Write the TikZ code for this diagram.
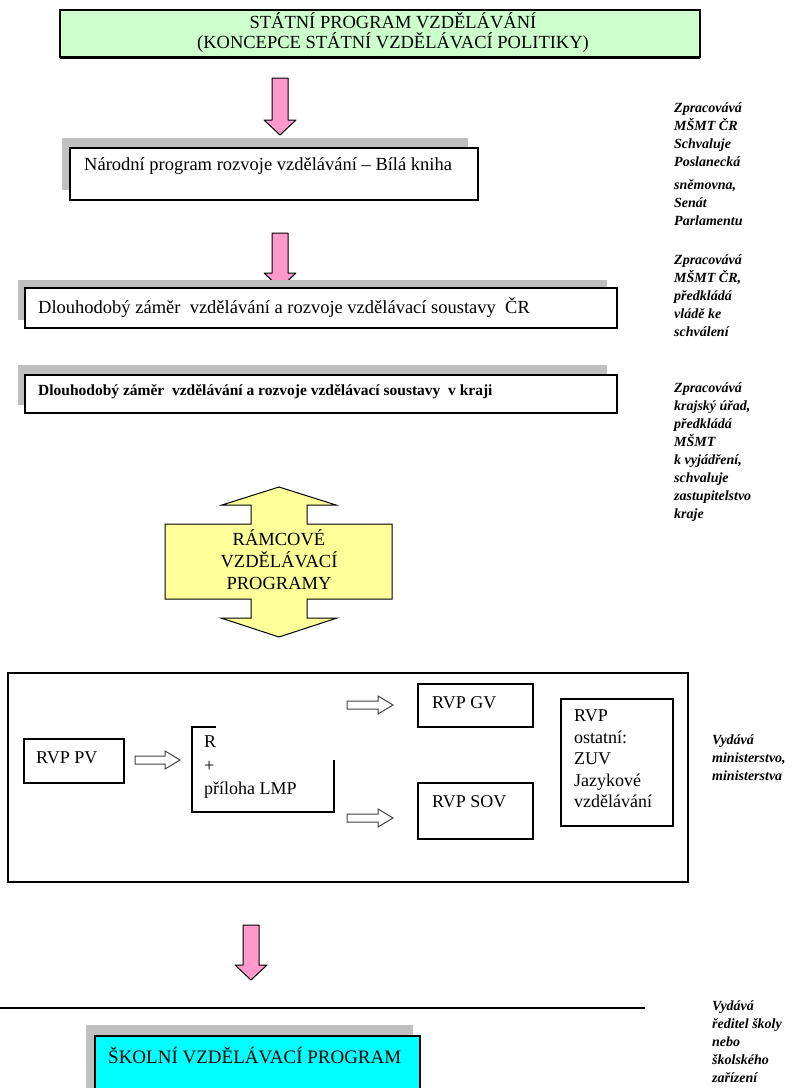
\documentclass[tikz,border=0pt]{standalone}
\usepackage{fontspec}
\setmainfont{Liberation Serif}
\usetikzlibrary{positioning}

\definecolor{statnigreen}{HTML}{CCFFCC}
\definecolor{arrowpink}{HTML}{FF99CC}
\definecolor{rvpyellow}{HTML}{FFFF99}
\definecolor{svpcyan}{HTML}{00FFFF}
\definecolor{shadowgray}{HTML}{C0C0C0}

\tikzset{
  frame/.style={draw, line width=1.2pt},
  shadowbar/.style={fill=shadowgray},
  pinkarrow/.style={draw, fill=arrowpink, line width=1pt, line join=round},
  hollowarrow/.style={draw=black!75, fill=white, line width=1pt},
  boxtext/.style={inner sep=0pt, anchor=west, font=\fontsize{18.5}{22}\selectfont},
  note/.style={inner sep=0pt, anchor=north west, align=left,
    font=\fontsize{14}{18}\selectfont\bfseries\itshape},
}

\newcommand{\pinkdown}[3]{%
  \draw[pinkarrow] (#1-8,#2) -- (#1+8,#2) -- (#1+8,#3-15) -- (#1+16,#3-15)
    -- (#1,#3) -- (#1-16,#3-15) -- (#1-8,#3-15) -- cycle;}
\newcommand{\hollowright}[3]{%
  \draw[hollowarrow] (#1,#3-4) -- (#2-15,#3-4) -- (#2-15,#3-9) -- (#2,#3)
    -- (#2-15,#3+9) -- (#2-15,#3+4) -- (#1,#3+4) -- cycle;}

\begin{document}
\begin{tikzpicture}[x=1pt,y=-1pt]
  \useasboundingbox (0,0) rectangle (794,1088);

  \begin{scope}
    \draw[frame, fill=statnigreen] (60,10) rectangle (700,57);
    \draw[line width=3pt] (60,57) -- (700,57);
    \node[boxtext, anchor=center, align=center, font=\fontsize{18.5}{20}\selectfont] (statni) at (393,33)
      {STÁTNÍ PROGRAM VZDĚLÁVÁNÍ\\(KONCEPCE STÁTNÍ VZDĚLÁVACÍ POLITIKY)};
  \end{scope}

  \pinkdown{280}{78}{135}

  \begin{scope}
    \fill[shadowbar] (62,138) rectangle (468,190);
    \draw[frame, fill=white] (70,148) rectangle (478,200);
    \node[boxtext] (bila) at (84,166) {Národní program rozvoje vzdělávání – Bílá kniha};
  \end{scope}

  \pinkdown{280}{233}{288}

  \begin{scope}
    \fill[shadowbar] (18,280) rectangle (607,320);
    \draw[frame, fill=white] (25,288) rectangle (617,328);
    \node[boxtext] (zamercr) at (38,308) {Dlouhodobý záměr\ \ vzdělávání a rozvoje vzdělávací soustavy\ \ ČR};

    \fill[shadowbar] (18,365) rectangle (607,405);
    \draw[frame, fill=white] (25,375) rectangle (617,413);
    \node[boxtext, font=\fontsize{15.5}{18}\selectfont\bfseries] (zamerkraj) at (38,392)
      {Dlouhodobý záměr\ \ vzdělávání a rozvoje vzdělávací soustavy\ \ v kraji};
  \end{scope}

  \draw[frame, line width=1pt, fill=rvpyellow] (279,487) -- (336,505) -- (307,505) -- (307,524)
    -- (392,524) -- (392,599) -- (307,599) -- (307,618) -- (337,618) -- (279,637)
    -- (221,618) -- (251,618) -- (251,599) -- (165,599) -- (165,524) -- (251,524)
    -- (251,505) -- (222,505) -- cycle;
  \node[align=center, inner sep=0pt, font=\fontsize{18.5}{22}\selectfont] (ramcove) at (279,560)
    {RÁMCOVÉ\\VZDĚLÁVACÍ\\PROGRAMY};

  \begin{scope}
    \draw[frame] (8,673) rectangle (688,882);

    \draw[frame] (24,739) rectangle (124,783);
    \node[boxtext, font=\fontsize{18}{22}\selectfont] (rvppv) at (36,758) {RVP PV};
    \hollowright{135}{180}{760}

    \draw[frame] (216,727) -- (192,727) -- (192,812) -- (334,812) -- (334,760);
    \node[boxtext, anchor=north west, align=left, font=\fontsize{18}{23.5}\selectfont] (rvplmp) at (204,736)
      {R\\+\\příloha LMP};

    \hollowright{347}{393}{705}
    \hollowright{347}{393}{818}

    \draw[frame] (418,684) rectangle (533,727);
    \node[boxtext, font=\fontsize{18}{22}\selectfont] (rvpgv) at (432,703) {RVP GV};
    \draw[frame] (418,783) rectangle (533,839);
    \node[boxtext, font=\fontsize{18}{22}\selectfont] (rvpsov) at (432,802) {RVP SOV};

    \draw[frame] (561,699) rectangle (673,826);
    \node[boxtext, anchor=north west, align=left, font=\fontsize{18}{21.5}\selectfont] (rvpostatni) at (574,710)
      {RVP\\ostatní:\\ZUV\\Jazykové\\vzdělávání};
  \end{scope}

  \pinkdown{251}{925}{980}
  \draw[line width=1.5pt] (0,1008) -- (645,1008);

  \begin{scope}
    \fill[shadowbar] (86,1025) rectangle (413,1100);
    \draw[frame, fill=svpcyan] (95,1036) rectangle (420,1100);
    \node[boxtext, font=\fontsize{19}{22}\selectfont] (svp) at (108,1055) {ŠKOLNÍ VZDĚLÁVACÍ PROGRAM};
  \end{scope}

  \node[note] (note1) at (674,103)
    {Zpracovává\\MŠMT ČR\\Schvaluje\\Poslanecká\\[5pt]sněmovna,\\Senát\\Parlamentu};
  \node[note] (note2) at (674,255) {Zpracovává\\MŠMT ČR,\\předkládá\\vládě ke\\schválení};
  \node[note] (note3) at (674,383)
    {Zpracovává\\krajský úřad,\\předkládá\\MŠMT\\k vyjádření,\\schvaluje\\zastupitelstvo\\kraje};
  \node[note] (note4) at (712,735) {Vydává\\ministerstvo,\\ministerstva};
  \node[note] (note5) at (712,1001) {Vydává\\ředitel školy\\nebo\\školského\\zařízení};
\end{tikzpicture}
\end{document}
